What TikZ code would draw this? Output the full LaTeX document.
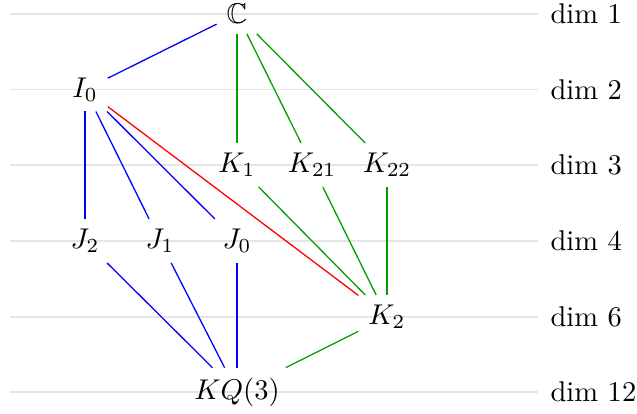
\documentclass[tikz,border=0pt]{standalone}
\usepackage{amssymb}
\begin{document}
\begin{tikzpicture}[x=0.35pt,y=-0.35pt,
  lvl/.style={draw=black!10,line width=0.6pt},
  dimlab/.style={anchor=west},
  eb/.style={draw=blue,line width=0.45pt},
  eg/.style={draw=green!62!black,line width=0.45pt},
  er/.style={draw=red,line width=0.45pt}]
\useasboundingbox (0,0) rectangle (637,414);
% level lines
\foreach \y/\d/\n in {14/1/a,89.5/2/b,165/3/c,241/4/d,317/6/e,392/12/f}{
  \coordinate (l\n) at (10,\y);
  \coordinate (r\n) at (538,\y);
  \draw[lvl] (l\n) -- (r\n);
  \node[dimlab] (dim\n) at (540.5,\y) {dim \d};
}
% nodes
\node (C) at (237,14) {$\mathbb{C}$};
\node (I0) at (85,89.5) {$I_0$};
\node (K1) at (237,165) {$K_1$};
\node (K21) at (312,165) {$K_{21}$};
\node (K22) at (387,165) {$K_{22}$};
\node (J2) at (85,241) {$J_2$};
\node (J1) at (160,241) {$J_1$};
\node (J0) at (237,241) {$J_0$};
\node (K2) at (387,317) {$K_2$};
\node (KQ) at (237,392) {$KQ(3)$};
% edges
\draw[eb] (C) -- (I0);
\draw[eb] (I0) -- (J2);
\draw[eb] (I0) -- (J1);
\draw[eb] (I0) -- (J0);
\draw[eb] (J2) -- (KQ);
\draw[eb] (J1) -- (KQ);
\draw[eb] (J0) -- (KQ);
\draw[eg] (C) -- (K1);
\draw[eg] (C) -- (K21);
\draw[eg] (C) -- (K22);
\draw[eg] (K1) -- (K2);
\draw[eg] (K21) -- (K2);
\draw[eg] (K22) -- (K2);
\draw[eg] (K2) -- (KQ);
\draw[er] (I0) -- (K2);
\end{tikzpicture}
\end{document}
